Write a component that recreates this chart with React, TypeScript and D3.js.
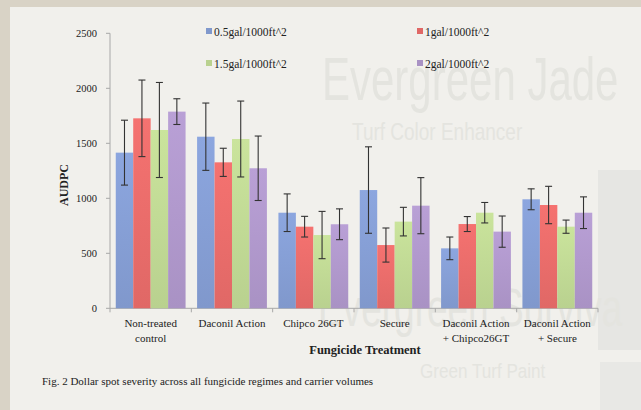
import React from "react";
import * as d3 from "d3";

const categories = [
  ["Non-treated", "control"],
  ["Daconil Action"],
  ["Chipco 26GT"],
  ["Secure"],
  ["Daconil Action", "+ Chipco26GT"],
  ["Daconil Action", "+ Secure"],
];
const seriesNames = ["0.5gal/1000ft^2", "1gal/1000ft^2", "1.5gal/1000ft^2", "2gal/1000ft^2"];
const colors = ["#8098cc", "#e06866", "#b9d18f", "#a992c4"];
const s05 = [1415, 1560, 869, 1075, 545, 991];
const s1 = [1727, 1327, 742, 575, 766, 939];
const s15 = [1621, 1539, 666, 788, 869, 742];
const s2 = [1788, 1273, 764, 933, 697, 869];
const e05 = [295, 306, 171, 393, 103, 95];
const e1 = [348, 128, 94, 155, 68, 170];
const e15 = [432, 345, 215, 130, 93, 60];
const e2 = [117, 293, 140, 255, 142, 144];
const yTicks = [0, 500, 1000, 1500, 2000, 2500];

const values = [s05, s1, s15, s2];
const errors = [e05, e1, e15, e2];

export default function App() {
  const W = 641, H = 410;
  const x0 = d3.scaleBand<number>().domain(d3.range(categories.length)).range([110, 598]).paddingInner(0).paddingOuter(0);
  const x1 = d3.scaleBand<number>().domain(d3.range(4)).range([0, x0.bandwidth()]).paddingInner(0).paddingOuter(0.33);
  const y = d3.scaleLinear().domain([0, 2500]).range([308.3, 33.3]);
  const serif = "'Liberation Serif', 'Times New Roman', serif";
  const sans = "'Liberation Sans', Arial, sans-serif";
  const faint = "#e4e4df";
  return (
    <svg width={W} height={H} style={{ position: "fixed", left: 0, top: 0 }} fontFamily={serif}>
      <defs>
        {colors.map((c, i) => (
          <linearGradient key={i} id={`g${i}`} x1="0" y1="0" x2="0" y2="1">
            <stop offset="0" stopColor={d3.color(c)!.brighter(0.25).formatHex()} />
            <stop offset="1" stopColor={c} />
          </linearGradient>
        ))}
      </defs>
      <rect x={0} y={0} width={W} height={H} fill="#d9d3c6" />
      <rect x={10} y={7} width={W - 10} height={H - 7} fill="#f1f0ec" />
      <rect x={598} y={170} width={43} height={180} fill="#e6e6e3" />
      <rect x={600} y={362} width={41} height={48} fill="#e8e8e5" />
      {/* faint bleed-through text */}
      <text x={0} y={0} transform="translate(322,100) scale(1,1.45)" fontFamily={sans} fontSize={42} fill={faint}>Evergreen Jade</text>
      <text x={0} y={0} transform="translate(352,140) scale(0.95,1.2)" fontFamily={sans} fontSize={20} fill={faint}>Turf Color Enhancer</text>
      <text x={0} y={0} transform="translate(318,326) scale(1,1.45)" fontFamily={sans} fontSize={37} fill={faint}>Evergreen Surviva</text>
      <text x={0} y={0} transform="translate(420,378) scale(0.95,1.15)" fontFamily={sans} fontSize={18} fill={faint}>Green Turf Paint</text>

      {/* axes */}
      <line x1={110} x2={110} y1={y(2500)} y2={y(0)} stroke="#a8a8a8" />
      <line x1={110} x2={598} y1={y(0)} y2={y(0)} stroke="#a8a8a8" />
      {yTicks.map((t) => (
        <g key={t}>
          <line x1={106} x2={110} y1={y(t)} y2={y(t)} stroke="#a8a8a8" />
          <text x={97} y={y(t)} dy="0.35em" textAnchor="end" fontSize={10.5} fill="#222">{t}</text>
        </g>
      ))}
      {d3.range(categories.length + 1).map((i) => {
        const xx = 110 + i * x0.bandwidth();
        return <line key={i} x1={xx} x2={xx} y1={y(0)} y2={y(0) + 4} stroke="#a8a8a8" />;
      })}

      {/* bars */}
      {categories.map((_, ci) => (
        <g key={ci} transform={`translate(${x0(ci)},0)`}>
          {values.map((vals, si) => {
            const v = vals[ci];
            const bx = x1(si)!;
            const bw = x1.bandwidth();
            return (
              <rect key={si} x={bx} y={y(v)} width={bw} height={y(0) - y(v)} fill={`url(#g${si})`} />
            );
          })}
          {values.map((vals, si) => {
            const v = vals[ci];
            const e = errors[si][ci];
            const cx = x1(si)! + x1.bandwidth() / 2;
            return (
              <g key={si} stroke="#333" strokeWidth={1.1}>
                <line x1={cx} x2={cx} y1={y(v + e)} y2={y(v - e)} />
                <line x1={cx - 3.5} x2={cx + 3.5} y1={y(v + e)} y2={y(v + e)} />
                <line x1={cx - 3.5} x2={cx + 3.5} y1={y(v - e)} y2={y(v - e)} />
              </g>
            );
          })}
          {categories[ci].map((line, li) => (
            <text key={li} x={x0.bandwidth() / 2} y={327 + li * 15} textAnchor="middle" fontSize={11} fill="#222">{line}</text>
          ))}
        </g>
      ))}

      {/* legend */}
      {seriesNames.map((n, i) => {
        const lx = i % 2 === 0 ? 206 : 417;
        const ly = i < 2 ? 32 : 64;
        return (
          <g key={n}>
            <rect x={lx} y={ly - 4} width={6} height={6} fill={colors[i]} />
            <text x={lx + 8} y={ly} dy="0.35em" fontSize={11.5} fill="#222">{n}</text>
          </g>
        );
      })}

      <text x={0} y={0} transform="translate(68,185) rotate(-90)" textAnchor="middle" fontSize={12} fontWeight="bold" fill="#222">AUDPC</text>
      <text x={365} y={354} textAnchor="middle" fontSize={12.5} fontWeight="bold" fill="#222">Fungicide Treatment</text>
      <text x={42} y={385} fontSize={11} fill="#222">Fig. 2 Dollar spot severity across all fungicide regimes and carrier volumes</text>
    </svg>
  );
}
